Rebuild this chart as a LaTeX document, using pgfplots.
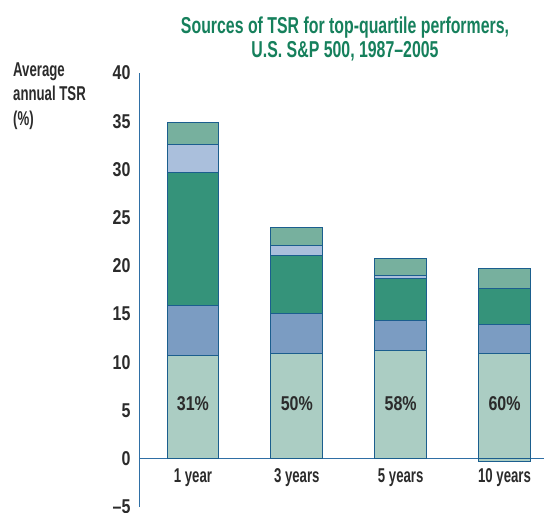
\documentclass[border=0pt]{standalone}
\usepackage{fontspec}
\setmainfont{Liberation Sans}[FakeStretch=0.66]
\newfontfamily\numf{Liberation Sans}[FakeStretch=0.8]
\newfontfamily\ttlf{Liberation Sans}[FakeStretch=0.69]
\usepackage{pgfplots}
\pgfplotsset{compat=1.18}
\definecolor{sbase}{HTML}{ABCDC3}
\definecolor{sblue}{HTML}{7B9CC2}
\definecolor{sgreen}{HTML}{35937A}
\definecolor{slblue}{HTML}{AABFDC}
\definecolor{stop}{HTML}{77B09E}
\definecolor{edge}{HTML}{1B5E8E}
\definecolor{axc}{HTML}{2F6FA5}
\definecolor{ttl}{HTML}{16805C}
\definecolor{txt}{HTML}{2B2B2B}
\newcommand{\tf}{\fontsize{20}{24}\selectfont\bfseries}
\newcommand{\nf}{\numf\fontsize{20}{24}\selectfont\bfseries}
\begin{document}
\begin{tikzpicture}
\useasboundingbox (-140pt,-5pt) rectangle (404pt,507pt);
\begin{axis}[name=ax, at={(0pt,0pt)}, anchor=south west,
  scale only axis, width=404pt, height=434pt,
  xmin=-0.51, xmax=3.38, ymin=-5, ymax=40,
  ybar stacked, bar width=0.5,
  axis y line*=left, axis x line*=middle,
  axis line style={axc, line width=1pt},
  major tick length=0pt,
  ytick={-5,0,...,40},
  yticklabels={–5,0,5,10,15,20,25,30,35,40},
  xtick={0,1,2,3},
  xticklabels={1 year,3 years,5 years,10 years},
  /pgf/number format/assume math mode=true,
  yticklabel style={font=\nf, text=txt, xshift=-6pt},
  xticklabel style={font=\tf, text=txt, yshift=-6pt},
  every axis plot/.append style={draw=edge, line width=1pt},
  clip=false]
\addplot[fill=sbase] coordinates {(0,10.7) (1,10.95) (2,11.2) (3,10.95)};
\addplot[fill=sblue] coordinates {(0,5.2) (1,4.15) (2,3.1) (3,2.95)};
\addplot[fill=sgreen] coordinates {(0,13.8) (1,5.95) (2,4.4) (3,3.8)};
\addplot[fill=slblue] coordinates {(0,2.9) (1,1.05) (2,0.3) (3,0)};
\addplot[fill=stop] coordinates {(0,2.3) (1,1.9) (2,1.8) (3,2.0)};
\coordinate (l0) at (axis cs:0,5.7);
\coordinate (l1) at (axis cs:1,5.7);
\coordinate (l2) at (axis cs:2,5.7);
\coordinate (l3) at (axis cs:3,5.7);
\end{axis}
\begin{axis}[at={(0pt,0pt)}, anchor=south west,
  scale only axis, width=404pt, height=434pt,
  xmin=-0.51, xmax=3.38, ymin=-5, ymax=40,
  ybar, bar width=0.5, hide axis]
\addplot[fill=sbase, draw=edge, line width=1pt] coordinates {(3,-0.3)};
\end{axis}
\node[font=\nf, text=txt] at (l0) {31\%};
\node[font=\nf, text=txt] at (l1) {50\%};
\node[font=\nf, text=txt] at (l2) {58\%};
\node[font=\nf, text=txt] at (l3) {60\%};
\node[anchor=base west, font=\tf, text=txt, inner sep=0pt]
  at ([xshift=-127pt,yshift=-3pt]ax.north west) {Average};
\node[anchor=base west, font=\tf, text=txt, inner sep=0pt]
  at ([xshift=-127pt,yshift=-27.5pt]ax.north west) {annual TSR};
\node[anchor=base west, font=\tf, text=txt, inner sep=0pt]
  at ([xshift=-127pt,yshift=-52pt]ax.north west) {(\%)};
\node[anchor=base, font=\ttlf\fontsize{23}{24}\selectfont\bfseries, text=ttl, inner sep=0pt]
  at ([xshift=205pt,yshift=40pt]ax.north west) {Sources of TSR for top-quartile performers,};
\node[anchor=base, font=\ttlf\fontsize{23}{24}\selectfont\bfseries, text=ttl, inner sep=0pt]
  at ([xshift=205pt,yshift=16pt]ax.north west) {U.S. S\&P 500, 1987–2005};
\end{tikzpicture}
\end{document}
